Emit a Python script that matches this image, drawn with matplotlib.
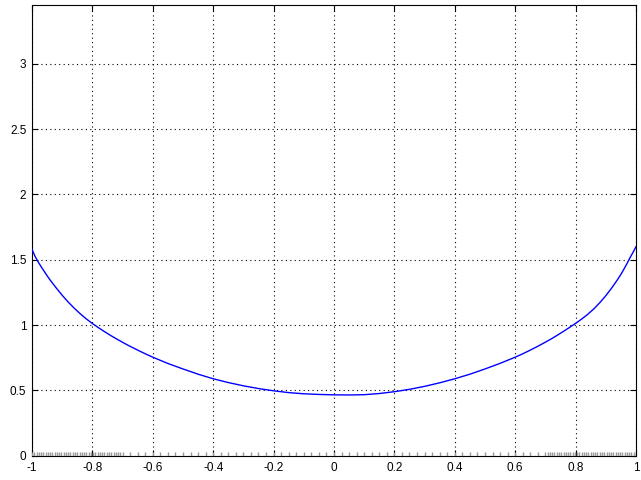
import matplotlib
matplotlib.use("Agg")
import matplotlib.pyplot as plt
from matplotlib.ticker import FuncFormatter

plt.rcParams['font.family'] = ['Liberation Sans', 'DejaVu Sans']
plt.rcParams['axes.unicode_minus'] = False

# curve
curve_x = [-1.0, -0.99, -0.98, -0.97, -0.96, -0.95, -0.94, -0.92, -0.90, -0.88,
           -0.86, -0.84, -0.82, -0.80, -0.78, -0.76, -0.74, -0.72, -0.70, -0.68,
           -0.66, -0.64, -0.62, -0.60, -0.55, -0.50, -0.45, -0.40, -0.35, -0.30,
           -0.25, -0.20, -0.15, -0.10, -0.05, 0.0, 0.05, 0.10, 0.15, 0.20,
           0.25, 0.30, 0.35, 0.40, 0.45, 0.50, 0.55, 0.60, 0.62, 0.64,
           0.66, 0.68, 0.70, 0.72, 0.74, 0.76, 0.78, 0.80, 0.82, 0.84,
           0.86, 0.88, 0.90, 0.92, 0.94, 0.95, 0.96, 0.97, 0.98, 0.99, 1.0]
curve_y = [1.58, 1.527, 1.485, 1.448, 1.413, 1.378, 1.345, 1.285, 1.228, 1.176,
           1.129, 1.086, 1.047, 1.012, 0.980, 0.950, 0.921, 0.894, 0.868, 0.843,
           0.820, 0.797, 0.775, 0.754, 0.706, 0.664, 0.624, 0.589, 0.560, 0.535,
           0.514, 0.497, 0.483, 0.474, 0.469, 0.466, 0.465, 0.467, 0.476, 0.490,
           0.508, 0.531, 0.558, 0.589, 0.624, 0.664, 0.707, 0.754, 0.775, 0.797,
           0.820, 0.844, 0.869, 0.895, 0.923, 0.952, 0.982, 1.013, 1.046, 1.082,
           1.123, 1.171, 1.225, 1.285, 1.352, 1.388, 1.428, 1.47, 1.515, 1.556, 1.6]

# grey sample marks along the x axis
rug_dense_left = [-1.0, -0.9925, -0.985, -0.9775, -0.97, -0.9625, -0.955, -0.9475,
                  -0.94, -0.9325, -0.925, -0.9175, -0.91, -0.9025, -0.895, -0.8875,
                  -0.88, -0.8725, -0.865, -0.8575, -0.85, -0.8425, -0.835, -0.8275,
                  -0.82, -0.8125, -0.805, -0.7975, -0.79, -0.7825, -0.775, -0.7675,
                  -0.76, -0.7525, -0.745, -0.7375, -0.73, -0.7225, -0.715, -0.7075, -0.7]
rug_sparse = [-0.675, -0.65, -0.625, -0.6, -0.575, -0.55, -0.525, -0.5, -0.475,
              -0.45, -0.425, -0.4, -0.375, -0.35, -0.325, -0.3, -0.275, -0.25,
              -0.225, -0.2, -0.175, -0.15, -0.125, -0.1, -0.075, -0.05, -0.025,
              0.0, 0.025, 0.05, 0.075, 0.1, 0.125, 0.15, 0.175, 0.2, 0.225, 0.25,
              0.275, 0.3, 0.325, 0.35, 0.375, 0.4, 0.425, 0.45, 0.475, 0.5, 0.525,
              0.55, 0.575, 0.6, 0.625, 0.65, 0.675]
rug_dense_right = [-v for v in rug_dense_left]
rug_x = rug_dense_left + rug_sparse + rug_dense_right

xticks = [-1, -0.8, -0.6, -0.4, -0.2, 0, 0.2, 0.4, 0.6, 0.8, 1]
yticks = [0, 0.5, 1, 1.5, 2, 2.5, 3]

fig = plt.figure(figsize=(6.41, 4.80), dpi=100)
ax = fig.add_axes([0.0499, 0.0506, 0.9423, 0.939])

ax.vlines(rug_x, 0, 0.03, color='#999999', lw=1.0, zorder=3)
ax.plot(curve_x, curve_y, color='#0000ff', lw=1.0, zorder=4)

ax.set_xlim(-1, 1)
ax.set_ylim(0, 3.45)
ax.set_xticks(xticks)
ax.set_yticks(yticks)
fmt = FuncFormatter(lambda v, p: '%g' % v)
ax.xaxis.set_major_formatter(fmt)
ax.yaxis.set_major_formatter(fmt)

ax.grid(True, color='black', linestyle=(0, (1, 3)), lw=0.8)
ax.tick_params(direction='in', length=4, width=0.8, top=True, right=True,
               labelsize=8.5, colors='black')
ax.tick_params(axis='x', pad=4.5)
ax.tick_params(axis='y', pad=4)
for s in ax.spines.values():
    s.set_linewidth(0.8)

fig.savefig('out.png', dpi=100, facecolor='white')
